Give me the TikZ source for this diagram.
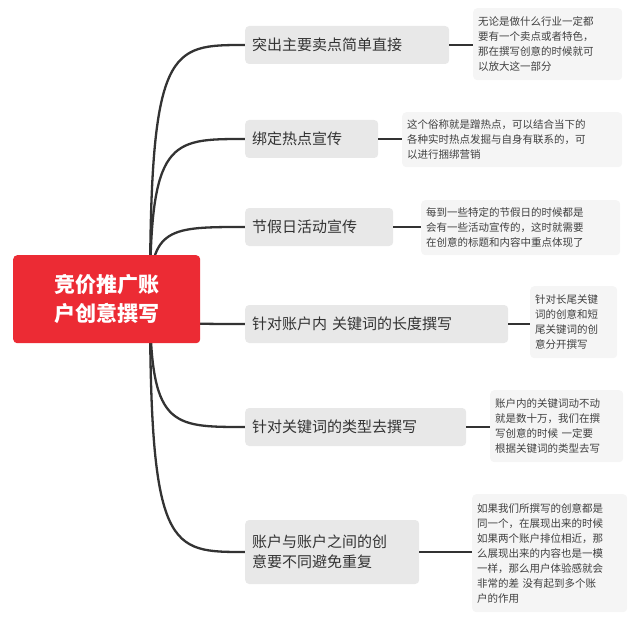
\documentclass[tikz,border=0pt]{standalone}
\usepackage{fontspec}
\setmainfont{Noto Sans CJK SC}
\definecolor{rootred}{HTML}{EC2B34}
\begin{document}
\begin{tikzpicture}[x=1pt,y=-1pt,
  br/.style={fill=black!9,rounded corners=4pt,text=black!80,font=\fontsize{15}{20}\selectfont,align=left,inner sep=0pt,anchor=west},
  note/.style={fill=black!4,rounded corners=4pt,text=black!75,font=\fontsize{10.5}{15}\selectfont,align=left,inner sep=0pt,anchor=north west},
  lk/.style={draw=black!80,line width=2.3pt},
  ln/.style={draw=black!80,line width=1.8pt}]
\useasboundingbox (0,0) rectangle (640,623);
\coordinate (o) at (150,299);
\foreach \n/\y in {1/45,2/139,3/227,4/324,5/427,6/552}{
  \coordinate (b\n) at (245,\y);
  \draw[lk] (o) .. controls (150,\y) and (170,\y) .. (b\n);
}
\node[fill=rootred,rounded corners=4pt,minimum width=187pt,minimum height=88pt,text=white,font=\bfseries\fontsize{21}{29}\selectfont,align=center,anchor=north west] (root) at (13,255) {竞价推广账\\户创意撰写};
\node[br,minimum width=204pt,minimum height=38pt,text width=190pt,inner xsep=7pt] (n1) at (b1) {突出主要卖点简单直接};
\node[br,minimum width=133pt,minimum height=38pt,text width=119pt,inner xsep=7pt] (n2) at (b2) {绑定热点宣传};
\node[br,minimum width=148pt,minimum height=38pt,text width=134pt,inner xsep=7pt] (n3) at (b3) {节假日活动宣传};
\node[br,minimum width=263pt,minimum height=38pt,text width=249pt,inner xsep=7pt] (n4) at (b4) {针对账户内 关键词的长度撰写};
\node[br,minimum width=221pt,minimum height=38pt,text width=207pt,inner xsep=7pt] (n5) at (b5) {针对关键词的类型去撰写};
\node[br,minimum width=174pt,minimum height=64pt,text width=160pt,inner xsep=7pt] (n6) at (b6) {账户与账户之间的创\\意要不同避免重复};
\node[note,minimum width=149pt,minimum height=72pt,text width=139pt,inner xsep=5pt,inner ysep=4pt] (m1) at (473,8) {无论是做什么行业一定都\\要有一个卖点或者特色，\\那在撰写创意的时候就可\\以放大这一部分};
\node[note,minimum width=220pt,minimum height=55pt,text width=210pt,inner xsep=5pt,inner ysep=4pt] (m2) at (402,112) {这个俗称就是蹭热点，可以结合当下的\\各种实时热点发掘与自身有联系的，可\\以进行捆绑营销};
\node[note,minimum width=199pt,minimum height=55pt,text width=189pt,inner xsep=5pt,inner ysep=4pt] (m3) at (421,200) {每到一些特定的节假日的时候都是\\会有一些活动宣传的，这时就需要\\在创意的标题和内容中重点体现了};
\node[note,minimum width=87pt,minimum height=72pt,text width=77pt,inner xsep=5pt,inner ysep=4pt] (m4) at (530,286) {针对长尾关键\\词的创意和短\\尾关键词的创\\意分开撰写};
\node[note,minimum width=133pt,minimum height=72pt,text width=123pt,inner xsep=5pt,inner ysep=4pt] (m5) at (490,390) {账户内的关键词动不动\\就是数十万，我们在撰\\写创意的时候 一定要\\根据关键词的类型去写};
\node[note,minimum width=155pt,minimum height=118pt,text width=145pt,inner xsep=5pt,inner ysep=4pt] (m6) at (472,494) {如果我们所撰写的创意都是\\同一个，在展现出来的时候\\如果两个账户排位相近，那\\么展现出来的内容也是一模\\一样，那么用户体验感就会\\非常的差 没有起到多个账\\户的作用};
\foreach \n in {1,...,6}{\draw[ln] (n\n.east) -- (m\n.west |- n\n.east);}
\end{tikzpicture}
\end{document}
